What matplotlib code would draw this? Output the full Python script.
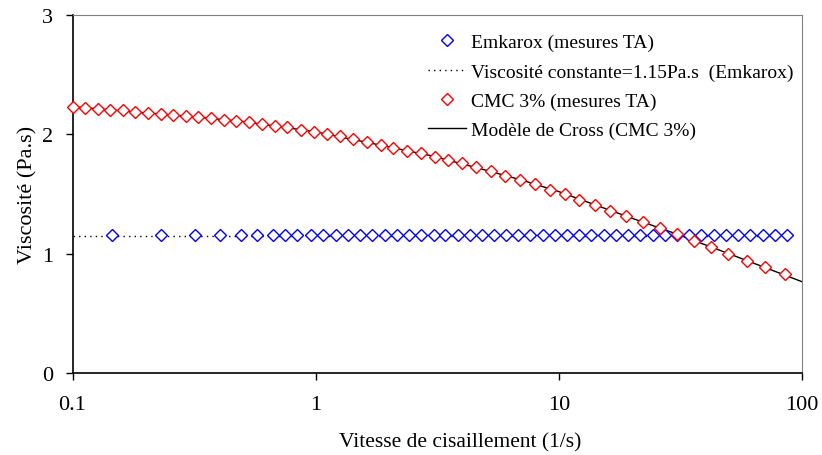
import matplotlib.pyplot as plt

plt.rcParams['font.family'] = ['Liberation Serif', 'DejaVu Serif']

# Emkarox (mesures TA)
emk_x = [0.145, 0.231, 0.319, 0.404, 0.491, 0.575, 0.665, 0.750, 0.840, 0.956, 1.074,
         1.207, 1.352, 1.519, 1.707, 1.920, 2.150, 2.423, 2.714, 3.052, 3.406, 3.831,
         4.304, 4.821, 5.400, 6.067, 6.823, 7.643, 8.587, 9.620, 10.81, 12.11, 13.61,
         15.30, 17.14, 19.32, 21.65, 24.32, 27.25, 30.52, 34.29, 38.57, 43.32, 48.53,
         54.53, 61.33, 68.88, 77.18, 86.70]
emk_y = [1.16] * len(emk_x)

# constant viscosity line
const_x = [0.1, 87]
const_y = [1.15, 1.15]

# CMC 3% (mesures TA)
cmc_x = [0.100, 0.1125, 0.1269, 0.1430, 0.1608, 0.1812, 0.2043, 0.2304, 0.2589, 0.2920,
         0.3289, 0.3709, 0.4183, 0.4713, 0.5314, 0.6010, 0.6778, 0.7636, 0.8692, 0.9831,
         1.1085, 1.2574, 1.4264, 1.6190, 1.8485, 2.0829, 2.3773, 2.6993, 3.0903, 3.5045,
         4.0013, 4.5847, 5.2503, 6.0326, 6.9087, 7.9616, 9.176, 10.575, 12.106, 14.137,
         16.300, 18.967, 22.193, 25.98, 30.60, 35.85, 42.11, 49.78, 59.37, 70.68, 85.38]
cmc_y = [2.232, 2.219, 2.213, 2.205, 2.202, 2.190, 2.179, 2.171, 2.160, 2.154,
         2.143, 2.137, 2.123, 2.115, 2.101, 2.090, 2.073, 2.062, 2.039, 2.023,
         2.001, 1.989, 1.961, 1.939, 1.911, 1.886, 1.863, 1.842, 1.813, 1.788,
         1.758, 1.724, 1.691, 1.654, 1.618, 1.582, 1.536, 1.500, 1.450, 1.408,
         1.360, 1.313, 1.263, 1.213, 1.165, 1.109, 1.054, 1.000, 0.941, 0.886, 0.830]

# Modele de Cross (CMC 3%)
cross_x = [0.1, 0.2, 0.3, 0.5, 1, 2, 3, 5, 7, 10, 15, 20, 30, 50, 70, 100]
cross_y = [2.232, 2.18, 2.151, 2.108, 2.021, 1.895, 1.82, 1.70, 1.618, 1.52, 1.389,
           1.297, 1.17, 1.0, 0.886, 0.765]

fig = plt.figure(figsize=(8.22, 4.56), dpi=100)
ax = fig.add_axes([0.0882, 0.1798, 0.8875, 0.7851])

ax.plot(emk_x, emk_y, linestyle='none', marker='D', markersize=6.5,
        markerfacecolor='white', markeredgecolor='#0000ff', markeredgewidth=1.0,
        label='Emkarox (mesures TA)', zorder=3, clip_on=False)
ax.plot(const_x, const_y, linestyle=(0, (1, 3)), color='black', linewidth=1.0,
        label='Viscosité constante=1.15Pa.s  (Emkarox)', zorder=2)
ax.plot(cmc_x, cmc_y, linestyle='none', marker='D', markersize=6.5,
        markerfacecolor='white', markeredgecolor='#ff0000', markeredgewidth=1.0,
        label='CMC 3% (mesures TA)', zorder=4, clip_on=False)
ax.plot(cross_x, cross_y, color='black', linewidth=1.0,
        label='Modèle de Cross (CMC 3%)', zorder=2)

ax.set_xscale('log')
ax.set_xlim(0.1, 100)
ax.set_ylim(0, 3)
ax.set_xticks([0.1, 1, 10, 100])
ax.set_xticklabels(['0.1', '1', '10', '100'])
ax.xaxis.set_minor_locator(plt.NullLocator())
ax.set_yticks([0, 1, 2, 3])
ax.tick_params(labelsize=16, length=5, width=1, direction='out')
ax.tick_params(axis='x', pad=11)
ax.tick_params(axis='y', pad=9)

for s in ['top', 'right']:
    ax.spines[s].set_color('#808080')
    ax.spines[s].set_linewidth(0.8)
for s in ['left', 'bottom']:
    ax.spines[s].set_linewidth(1.2)

ax.set_xlabel('Vitesse de cisaillement (1/s)', fontsize=15.5)
ax.xaxis.set_label_coords(0.531, -0.166)
ax.set_ylabel('Viscosité (Pa.s)', fontsize=16)
ax.yaxis.set_label_coords(-0.048, 0.5)

ax.legend(loc='upper left', bbox_to_anchor=(0.487, 0.948), frameon=False,
          fontsize=14, handlelength=1.95, handletextpad=0.25, labelspacing=0.6,
          borderaxespad=0, borderpad=0)

fig.savefig('out.png', dpi=100)
